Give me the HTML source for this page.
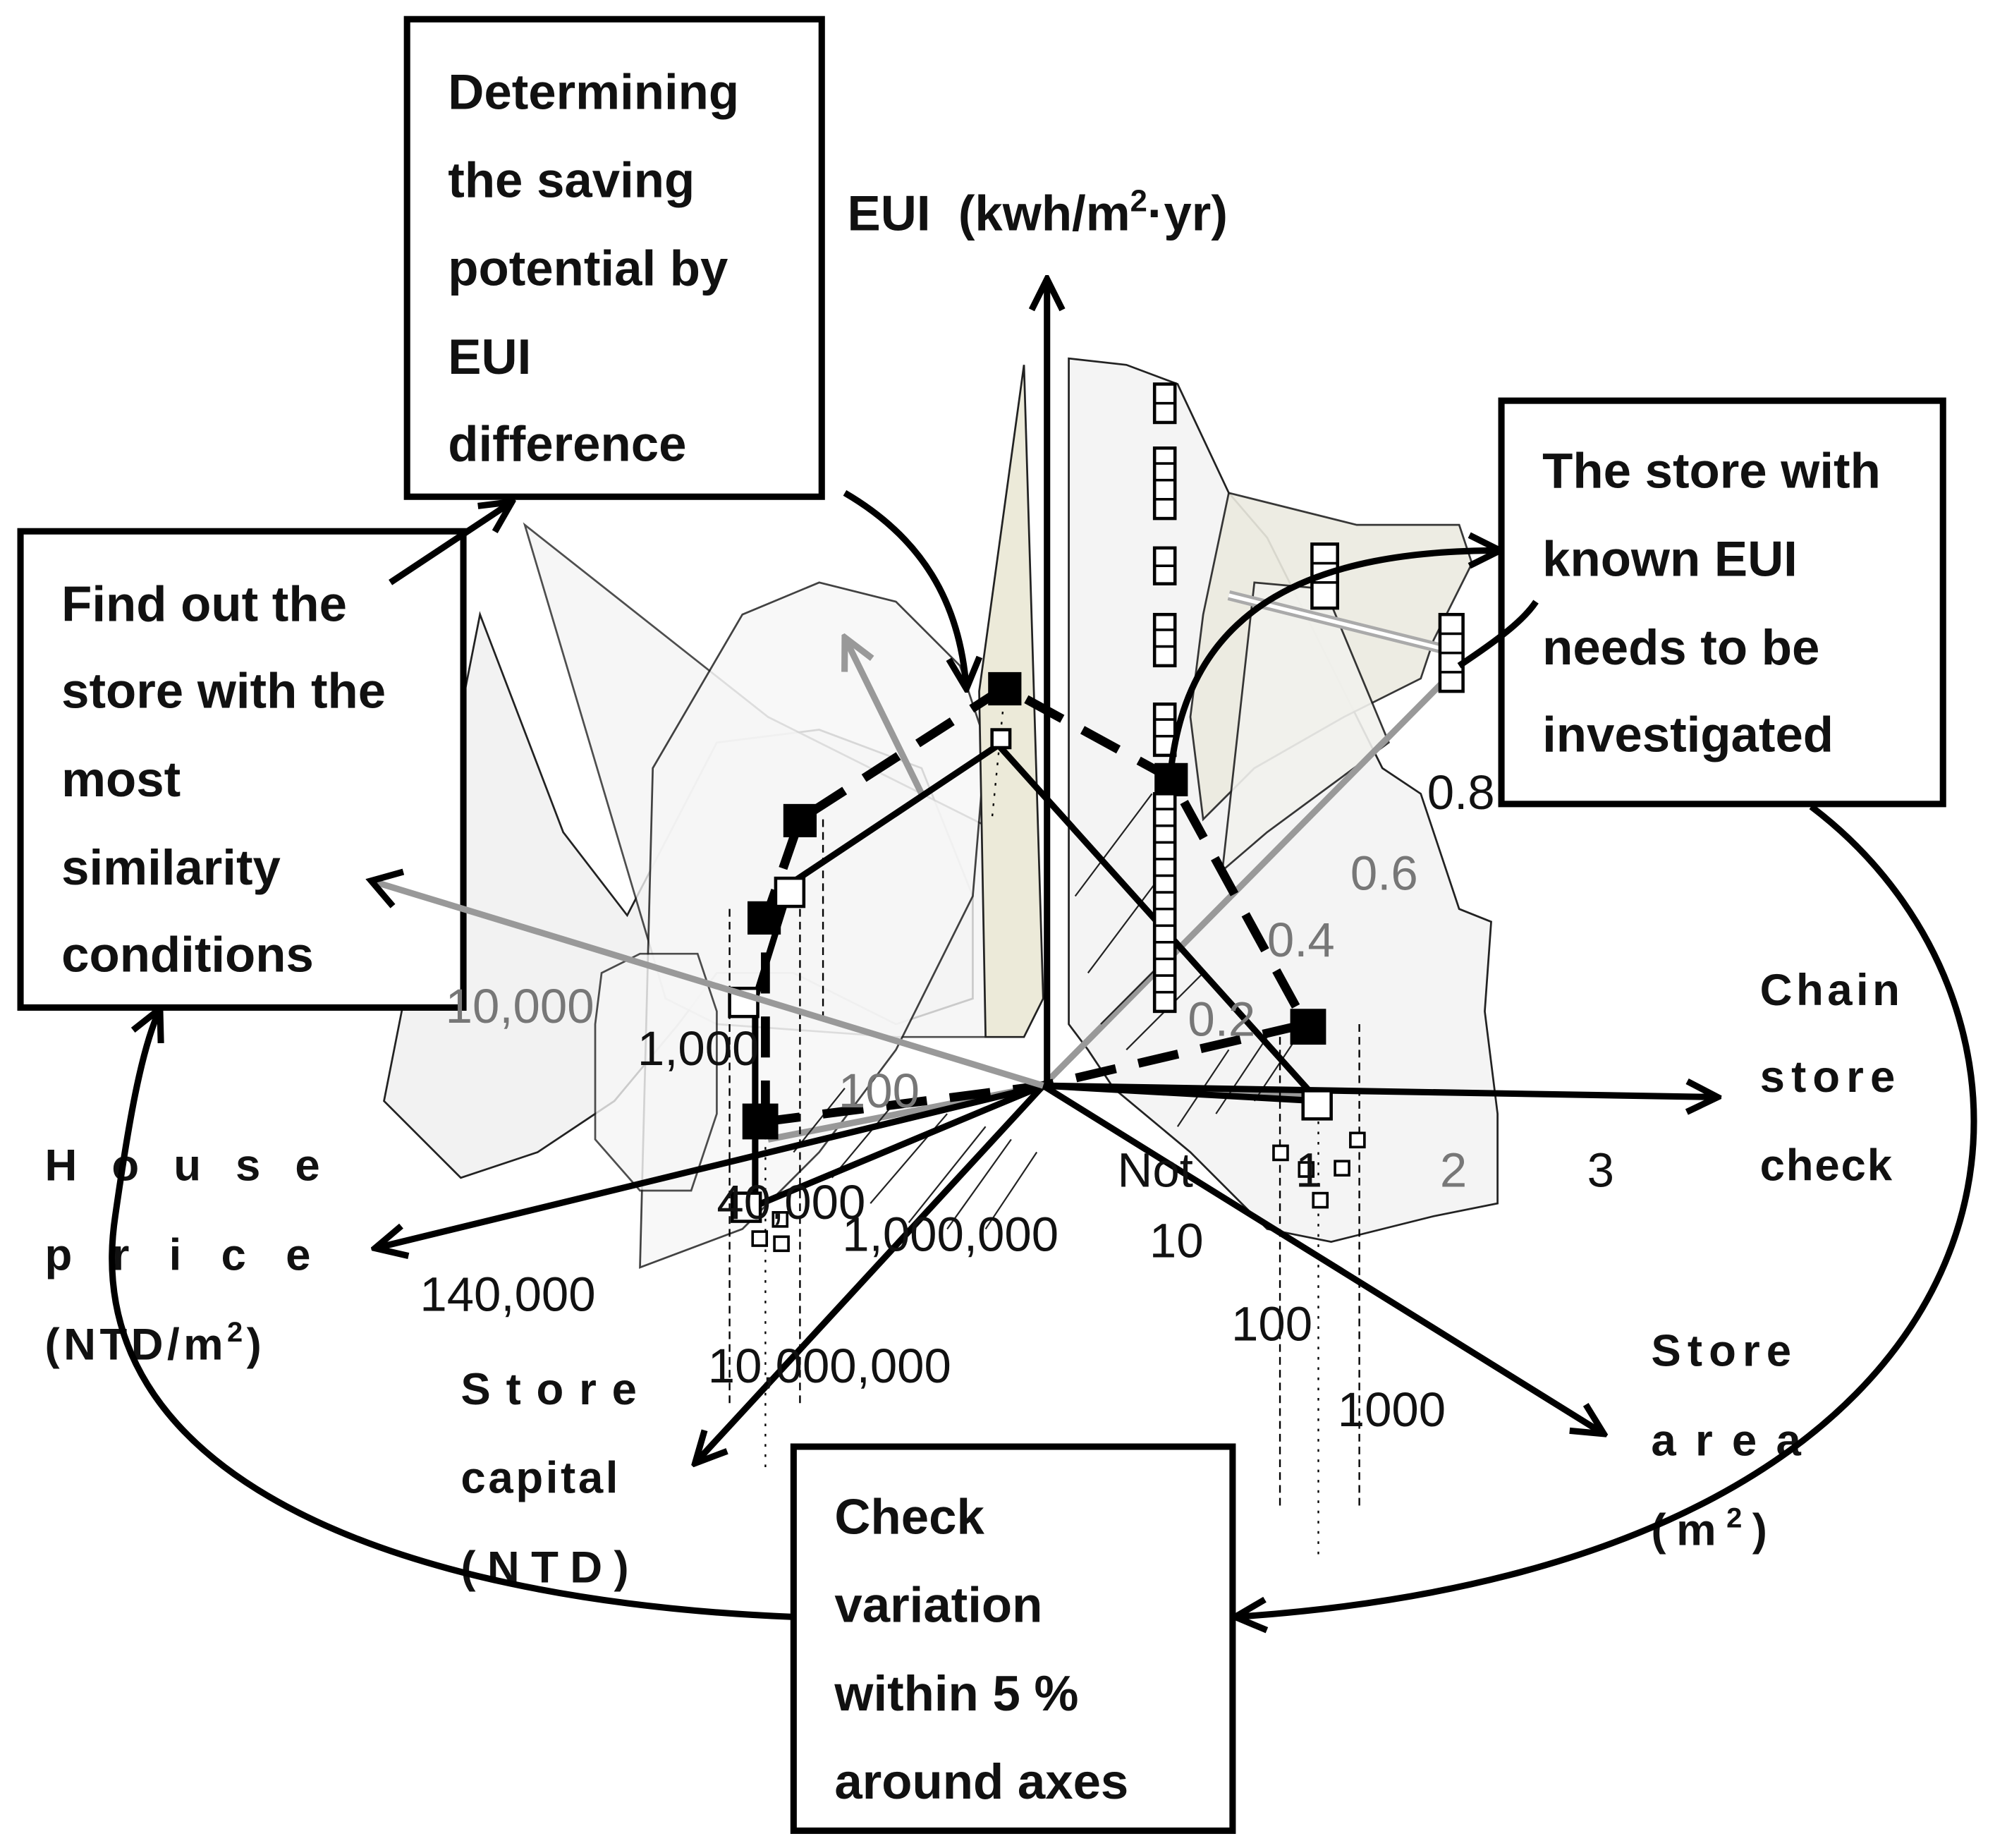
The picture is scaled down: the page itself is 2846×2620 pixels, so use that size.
<!DOCTYPE html>
<html><head><meta charset="utf-8"><style>
html,body{margin:0;padding:0;background:#fff}
svg{display:block}
text{font-family:"Liberation Sans",sans-serif}
.b{font-weight:bold;font-size:39px;fill:#111}
.s{font-weight:bold;font-size:35px;fill:#111}
.n{font-size:38px;fill:#111}
.g{font-size:38px;fill:#777}
</style></head><body>
<svg width="2846" height="2620" viewBox="0 0 1568 1443.5" xmlns="http://www.w3.org/2000/svg">
<defs>
<marker id="a" viewBox="0 0 30 30" refX="27" refY="15" markerWidth="30" markerHeight="30" orient="auto" markerUnits="userSpaceOnUse"><path d="M3,3 L27,15 L3,27" fill="none" stroke="#000" stroke-width="5"/></marker>
<marker id="ag" viewBox="0 0 30 30" refX="27" refY="15" markerWidth="30" markerHeight="30" orient="auto" markerUnits="userSpaceOnUse"><path d="M3,3 L27,15 L3,27" fill="none" stroke="#999" stroke-width="5"/></marker>
</defs>

<g stroke="#222" stroke-width="1.5">
<path d="M300,860 L375,480 L440,650 L490,715 L560,580 L640,570 L720,600 L760,700 L760,780 L700,800 L620,760 L560,760 L530,800 L480,860 L420,900 L360,920 Z" fill="#f2f2f2"/>
<path d="M410,410 L600,560 L780,650 L780,810 L700,810 L560,800 L520,780 Z" fill="#f5f5f5" opacity=".8"/>
<path d="M500,990 L510,600 L580,480 L640,455 L700,470 L750,520 L770,580 L760,700 L700,820 L640,900 L580,960 Z" fill="#f7f7f7" opacity=".85"/>
<path d="M465,800 L470,760 L500,745 L545,745 L560,790 L560,870 L540,930 L500,930 L465,890 Z" fill="#f6f6f6" opacity=".8"/>
<path d="M765,540 L800,285 L815,780 L800,810 L770,810 Z" fill="#ecead9"/>
<path d="M835,280 L880,285 L920,300 L960,385 L990,420 L1050,540 L1080,600 L1110,620 L1140,710 L1165,720 L1160,790 L1170,870 L1170,940 L1120,950 L1040,970 L990,960 L930,900 L870,850 L850,820 L835,800 Z" fill="#f4f4f4"/>
<path d="M960,385 L1060,410 L1140,410 L1150,440 L1120,500 L1110,530 L1050,560 L980,600 L940,640 L930,560 L940,480 Z" fill="#ecebe0" opacity=".9"/>
<path d="M980,455 L1035,460 L1085,580 L990,650 L955,680 Z" fill="#f2f2ee" opacity=".9"/>
</g>

<g stroke="#999" stroke-width="5" fill="none">
<line x1="720" y1="620" x2="660" y2="498" marker-end="url(#ag)"/>
<line x1="815" y1="848" x2="1140" y2="520"/>
<line x1="600" y1="890" x2="815" y2="848"/>
<line x1="815" y1="848" x2="1030" y2="855"/>
<line x1="960" y1="465" x2="1140" y2="510" stroke="#aaa" stroke-width="8"/>
<line x1="960" y1="465" x2="1140" y2="510" stroke="#fff" stroke-width="3"/>
</g>

<g stroke="#222" stroke-width="1.2">
<line x1="620" y1="900" x2="660" y2="850"/><line x1="650" y1="920" x2="700" y2="860"/>
<line x1="680" y1="940" x2="740" y2="870"/><line x1="710" y1="955" x2="770" y2="880"/>
<line x1="740" y1="960" x2="790" y2="890"/><line x1="770" y1="960" x2="810" y2="900"/>
<line x1="840" y1="700" x2="900" y2="620"/><line x1="850" y1="760" x2="910" y2="680"/>
<line x1="860" y1="800" x2="920" y2="740"/><line x1="880" y1="820" x2="940" y2="760"/>
<line x1="920" y1="880" x2="960" y2="820"/><line x1="950" y1="870" x2="990" y2="810"/>
<line x1="980" y1="860" x2="1010" y2="815"/>
</g>
<g stroke="#000" stroke-width="1.3" stroke-dasharray="6,4">
<line x1="570" y1="710" x2="570" y2="1100"/><line x1="625" y1="690" x2="625" y2="1100"/>
<line x1="643" y1="640" x2="643" y2="800"/><line x1="1000" y1="810" x2="1000" y2="1180"/>
<line x1="1062" y1="800" x2="1062" y2="1180"/>
<line x1="598" y1="880" x2="598" y2="1150" stroke-dasharray="2,6"/>
<line x1="1030" y1="860" x2="1030" y2="1220" stroke-dasharray="2,6"/>
<line x1="785" y1="540" x2="775" y2="640" stroke-dasharray="2,6"/>
</g>

<g stroke="#000" stroke-width="5" fill="none">
<line x1="818" y1="845" x2="818" y2="218" marker-end="url(#a)"/>
<line x1="815" y1="848" x2="1342" y2="857" marker-end="url(#a)"/>
<line x1="815" y1="848" x2="1253" y2="1120" marker-end="url(#a)"/>
<line x1="815" y1="848" x2="543" y2="1143" marker-end="url(#a)"/>
<line x1="815" y1="848" x2="293" y2="975" marker-end="url(#a)"/>
</g>

<path d="M590,942 L590,780 L618,690 L780,582 L1030,860 L815,848 L590,942" fill="none" stroke="#000" stroke-width="5"/>
<path d="M598,876 L598,718 L625,640 L785,537 L915,608 L1020,800 L815,848 L598,876" fill="none" stroke="#000" stroke-width="7" stroke-dasharray="32,18"/>
<g fill="#000">
<rect x="580" y="862" width="28" height="28"/><rect x="584" y="704" width="26" height="26"/>
<rect x="612" y="628" width="26" height="26"/><rect x="772" y="525" width="26" height="26"/>
<rect x="902" y="596" width="26" height="26"/><rect x="1008" y="788" width="28" height="28"/>
</g>
<g fill="#fff" stroke="#000" stroke-width="2.5">
<rect x="570" y="772" width="22" height="22"/><rect x="606" y="686" width="22" height="22"/>
<rect x="1018" y="852" width="22" height="22"/><rect x="572" y="932" width="22" height="22"/>
<rect x="775" y="570" width="14" height="14"/>
</g>

<g fill="#fff" stroke="#000" stroke-width="2.5">
<rect x="902" y="300" width="16" height="30"/><rect x="902" y="350" width="16" height="55"/>
<rect x="902" y="428" width="16" height="28"/><rect x="902" y="480" width="16" height="40"/>
<rect x="902" y="550" width="16" height="40"/><rect x="902" y="620" width="16" height="170"/>
<rect x="1025" y="425" width="20" height="50"/><rect x="1125" y="480" width="18" height="60"/>
</g>
<g stroke="#000" stroke-width="2">
<path d="M902,315h16M902,362h16M902,375h16M902,390h16M902,442h16M902,492h16M902,505h16M902,562h16M902,575h16M902,632h16M902,645h16M902,658h16M902,671h16M902,684h16M902,697h16M902,710h16M902,723h16M902,736h16M902,749h16M902,762h16M902,775h16M1025,440h20M1025,455h20M1125,495h18M1125,510h18M1125,525h18"/>
</g>
<g fill="#fff" stroke="#000" stroke-width="2">
<rect x="995" y="895" width="11" height="11"/><rect x="1015" y="908" width="11" height="11"/>
<rect x="1043" y="907" width="11" height="11"/><rect x="1055" y="885" width="11" height="11"/>
<rect x="1026" y="932" width="11" height="11"/><rect x="588" y="962" width="11" height="11"/>
<rect x="605" y="966" width="11" height="11"/><rect x="604" y="947" width="11" height="11"/>
</g>

<g fill="#fff" stroke="#000" stroke-width="5">
<rect x="318" y="15" width="324" height="373"/>
<rect x="16" y="415" width="346" height="372"/>
<rect x="1173" y="313" width="345" height="315"/>
<rect x="620" y="1130" width="343" height="300"/>
</g>
<line x1="815" y1="848" x2="293" y2="689" stroke="#999" stroke-width="5"/>
<path d="M315.1,681 L290,688 L306.9,707.8" fill="none" stroke="#000" stroke-width="5" stroke-linejoin="miter"/>

<g class="b">
<text x="350" y="85">Determining</text><text x="350" y="154">the saving</text>
<text x="350" y="223">potential by</text><text x="350" y="292">EUI</text>
<text x="350" y="360">difference</text>
<text x="48" y="485">Find out the</text><text x="48" y="553">store with the</text>
<text x="48" y="622">most</text><text x="48" y="691">similarity</text>
<text x="48" y="759">conditions</text>
<text x="1205" y="381">The store with</text><text x="1205" y="450">known EUI</text>
<text x="1205" y="519">needs to be</text><text x="1205" y="587">investigated</text>
<text x="652" y="1198">Check</text><text x="652" y="1267">variation</text>
<text x="652" y="1336">within 5 %</text><text x="652" y="1405">around axes</text>
<text x="662" y="180" xml:space="preserve">EUI  (kwh/m<tspan font-size="24" dy="-15">2</tspan><tspan dy="15">·yr)</tspan></text>
</g>
<g class="s">
<text x="1375" y="785" letter-spacing="3">Chain</text>
<text x="1375" y="853" letter-spacing="5">store</text>
<text x="1375" y="922" letter-spacing="1">check</text>
<text x="35" y="922" letter-spacing="27">House</text>
<text x="35" y="992" letter-spacing="31">price</text>
<text x="35" y="1062" letter-spacing="3">(NTD/m<tspan font-size="22" dy="-14">2</tspan><tspan dy="14">)</tspan></text>
<text x="360" y="1097" letter-spacing="12">Store</text>
<text x="360" y="1166" letter-spacing="2">capital</text>
<text x="360" y="1236" letter-spacing="9">(NTD)</text>
<text x="1290" y="1067" letter-spacing="5">Store</text>
<text x="1290" y="1137" letter-spacing="15">area</text>
<text x="1290" y="1207" letter-spacing="8">(m<tspan font-size="22" dy="-14">2</tspan><tspan dy="14">)</tspan></text>
</g>

<g>
<text class="g" x="348" y="799">10,000</text>
<text class="n" x="498" y="832">1,000</text>
<text class="g" x="655" y="865">100</text>
<text class="n" x="560" y="952">40,000</text>
<text class="n" x="658" y="977">1,000,000</text>
<text class="n" x="328" y="1024">140,000</text>
<text class="n" x="553" y="1080">10,000,000</text>
<text class="n" x="873" y="927">Not</text>
<text class="n" x="898" y="982">10</text>
<text class="n" x="962" y="1047">100</text>
<text class="n" x="1045" y="1114">1000</text>
<text class="n" x="1012" y="927">1</text>
<text class="g" x="1125" y="927">2</text>
<text class="n" x="1240" y="927">3</text>
<text class="g" x="928" y="809">0.2</text>
<text class="g" x="990" y="747">0.4</text>
<text class="g" x="1055" y="695">0.6</text>
<text class="n" x="1115" y="632">0.8</text>
</g>

<g stroke="#000" stroke-width="5" fill="none">
<path d="M660,385 C720,420 750,470 755,538" marker-end="url(#a)"/>
<line x1="305" y1="455" x2="400" y2="392" marker-end="url(#a)"/>
<path d="M915,600 C930,470 1030,430 1172,430" marker-end="url(#a)"/>
<path d="M1140,520 C1170,500 1190,485 1200,470"/>
<path d="M1415,630 C1640,800 1610,1220 965,1263" marker-end="url(#a)"/>
<path d="M620,1263 C300,1250 60,1150 90,950 C100,880 110,820 125,788" marker-end="url(#a)"/>
</g>
</svg>
</body></html>
